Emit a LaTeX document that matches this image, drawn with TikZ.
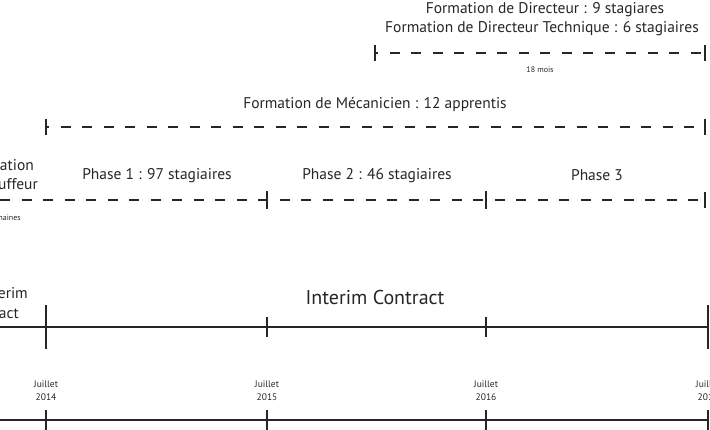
\documentclass[tikz,border=0pt]{standalone}
\usepackage{fontspec}
\setmainfont{PT Sans}

\begin{document}
\begin{tikzpicture}[x=1pt,y=-1pt,
  solidln/.style={line width=2.2pt, draw=black!85},
  dashln/.style={line width=2.8pt, draw=black!85, dash pattern=on 10pt off 11.5pt, dash phase=7pt},
  tickln/.style={line width=2.4pt, draw=black!85},
  lbl/.style={text=black!85, font=\fontsize{15.5}{18}\selectfont, inner sep=0pt},
  biglbl/.style={text=black!85, font=\fontsize{20}{22}\selectfont, inner sep=0pt},
  tinylbl/.style={text=black!85, font=\fontsize{9.5}{13}\selectfont, inner sep=0pt, align=center}]
\clip (0,0) rectangle (710,430);

\coordinate (d0) at (375,53);  \coordinate (d1) at (705,53);
\coordinate (m0) at (46,127);  \coordinate (m1) at (705,127);
\coordinate (p0) at (0,200);   \coordinate (p1) at (267,200);
\coordinate (p2) at (486,200); \coordinate (p3) at (705,200);
\coordinate (i0) at (0,327);   \coordinate (i1) at (46,327);
\coordinate (i2) at (267,327); \coordinate (i3) at (486,327);
\coordinate (i4) at (708,327);
\coordinate (j0) at (0,420);   \coordinate (j1) at (46,420);
\coordinate (j2) at (267,420); \coordinate (j3) at (486,420);
\coordinate (j4) at (708,420);

% directeurs
\node[lbl] (dir) at (545,10) {Formation de Directeur : 9 stagiares};
\node[lbl] (dirt) at (542,29) {Formation de Directeur Technique : 6 stagiaires};
\draw[dashln] (d0) -- (d1);
\draw[tickln] ([yshift=8pt]d0) -- ([yshift=-8pt]d0);
\draw[tickln] ([yshift=8pt]d1) -- ([yshift=-8pt]d1);
\node[tinylbl, font=\fontsize{8}{9}\selectfont] (mois) at (540,70) {18 mois};

% mecaniciens
\node[lbl] (meca) at (375,104) {Formation de Mécanicien : 12 apprentis};
\draw[dashln] (m0) -- (m1);
\draw[tickln] ([yshift=8pt]m0) -- ([yshift=-8pt]m0);
\draw[tickln] ([yshift=8pt]m1) -- ([yshift=-8pt]m1);

% phases
\node[lbl, anchor=east] (chf1) at (34,165) {Formation};
\node[lbl, anchor=east] (chf2) at (38,184) {Chauffeur};
\node[tinylbl, font=\fontsize{8}{9}\selectfont, anchor=east] (sem) at (21,218) {semaines};
\node[lbl] (ph1) at (157,176) {Phase 1 : 97 stagiaires};
\node[lbl] (ph2) at (377,176) {Phase 2 : 46 stagiaires};
\node[lbl] (ph3) at (597,175) {Phase 3};
\draw[dashln, dash phase=0pt] (p0) -- (p3);
\foreach \c in {p1,p2}
  \draw[tickln] ([yshift=9pt]\c) -- ([yshift=-9pt]\c);
\draw[tickln] ([yshift=8pt]p3) -- ([yshift=-8pt]p3);

% contrat
\node[lbl, anchor=east] (int1) at (28,293) {Interim};
\node[lbl, anchor=east] (int2) at (19,313) {Contract};
\node[biglbl] (int) at (375,298) {Interim Contract};
\draw[solidln] (i0) -- (i4);
\foreach \c in {i1,i4}
  \draw[tickln] ([yshift=22pt]\c) -- ([yshift=-22pt]\c);
\foreach \c in {i2,i3}
  \draw[tickln] ([yshift=10pt]\c) -- ([yshift=-10pt]\c);

% dates
\draw[solidln] (j0) -- (j4);
\foreach \c/\yr in {j1/2014,j2/2015,j3/2016,j4/2017}{
  \draw[tickln] ([yshift=10pt]\c) -- ([yshift=-10pt]\c);
  \node[tinylbl] (y\yr) at ([yshift=29pt]\c) {Juillet\\\yr};
}
\end{tikzpicture}
\end{document}
